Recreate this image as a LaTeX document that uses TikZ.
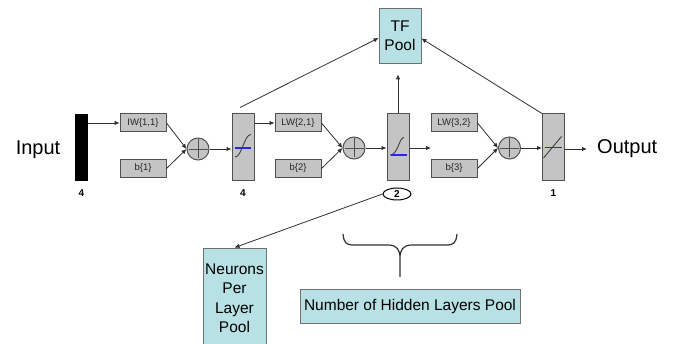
\documentclass[tikz,border=0pt]{standalone}
\usepackage{fontspec}
\setmainfont{Liberation Sans}
\usetikzlibrary{arrows.meta,shapes.geometric}
\definecolor{wgray}{HTML}{C4C4C4}
\definecolor{edge}{HTML}{505050}
\definecolor{pool}{HTML}{B7E1E4}
\definecolor{poolline}{HTML}{707070}
\definecolor{tfblue}{HTML}{2828E6}
\definecolor{wire}{HTML}{303030}
\begin{document}
\begin{tikzpicture}[x=1pt,y=-1pt,
  wbox/.style={draw=edge, fill=wgray, line width=1pt, minimum width=46pt,
    minimum height=18pt, inner sep=0pt, text=black!85,
    font=\fontsize{9.5}{11}\selectfont},
  layer/.style={draw=edge, fill=wgray, line width=1pt, minimum width=22pt,
    minimum height=67pt, inner sep=0pt},
  sumnode/.style={circle, draw=edge, fill=wgray, line width=1pt,
    minimum size=22pt, inner sep=0pt},
  poolbox/.style={draw=poolline, fill=pool, line width=0.8pt, inner sep=0pt,
    align=center, font=\fontsize{15.5}{19.5}\selectfont},
  wirearrow/.style={draw=wire, line width=0.8pt, -{Latex[length=5pt,width=4.5pt]}},
  sizelbl/.style={font=\bfseries\fontsize{10}{12}\selectfont},
  bigtext/.style={font=\fontsize{20}{24}\selectfont, inner sep=0pt},
  tfcurve/.style={draw=black!75, line width=0.9pt},
  tfline/.style={draw=tfblue, line width=1.3pt}
]
\useasboundingbox (0,0) rectangle (675,344);

% input side
\node[bigtext] (in) at (38,150) {Input};
\node[fill=black, minimum width=13pt, minimum height=67pt, inner sep=0pt] (bar) at (81.5,147.5) {};
\node[sizelbl] (n0) at (81.5,193) {4};

% layer 1
\node[wbox] (iw) at (143,123) {IW\{1,1\}};
\node[wbox] (b1) at (143,168.5) {b\{1\}};
\node[sumnode] (s1) at (198,149) {};
\node[layer] (l1) at (243,147.5) {};
\node[sizelbl] (n1) at (243,193) {4};

% layer 2
\node[wbox] (lw21) at (298,123) {LW\{2,1\}};
\node[wbox] (b2) at (298,168.5) {b\{2\}};
\node[sumnode] (s2) at (354,148) {};
\node[layer] (l2) at (398,147.5) {};
\node[ellipse, draw=black, fill=white, line width=1pt, minimum width=28pt,
  minimum height=12pt, inner sep=0pt, sizelbl] (n2) at (397,194) {2};

% layer 3
\node[wbox] (lw32) at (454,123) {LW\{3,2\}};
\node[wbox] (b3) at (454,168.5) {b\{3\}};
\node[sumnode] (s3) at (509.5,148) {};
\node[layer] (l3) at (553.5,147.5) {};
\node[sizelbl] (n3) at (553.5,193) {1};
\node[bigtext, anchor=west] (out) at (597,149) {Output};
\coordinate (stub) at (431,148);

% pools
\node[poolbox, minimum width=42pt, minimum height=55pt] (tf) at (400,35.5) {TF\\Pool};
\node[poolbox, minimum width=63pt, minimum height=100pt] (npl) at (234.5,298) {Neurons\\Per\\Layer\\Pool};
\node[poolbox, minimum width=220pt, minimum height=34pt] (nhl) at (410,306.5) {Number of Hidden Layers Pool};

% summing junction crosses
\foreach \s in {s1,s2,s3}
  \draw[edge, line width=0.9pt] ([xshift=2pt]\s.west) -- ([xshift=-2pt]\s.east)
    ([yshift=-2pt]\s.north) -- ([yshift=2pt]\s.south);

% transfer function glyphs
\begin{scope}[shift={(l1.center)}]
  \draw[tfline] (-8,0.5) -- (8,0.5);
  \draw[tfcurve] (-8,9.5) .. controls (-1,9.5) and (1,-13) .. (8,-13);
\end{scope}
\begin{scope}[shift={(l2.center)}]
  \draw[tfcurve] (-8,7.5) .. controls (0,7.5) and (1,-10) .. (6,-10);
  \draw[tfline] (-7,7.5) -- (9,7.5);
\end{scope}
\begin{scope}[shift={(l3.center)}]
  \draw[tfcurve] (-10,10.5) -- (8,-11);
  \draw[tfline] (-9,0) -- (8,0);
\end{scope}

% signal connectors
\draw[wirearrow] (bar.east |- iw.west) -- (iw.west);
\draw[wirearrow] (iw.east) -- (s1.west);
\draw[wirearrow] (b1.east) -- (s1.west);
\draw[wirearrow] (s1.east) -- (s1.east -| l1.west);
\draw[wirearrow] (l1.east |- lw21.west) -- (lw21.west);
\draw[wirearrow] (lw21.east) -- (s2.west);
\draw[wirearrow] (b2.east) -- (s2.west);
\draw[wirearrow] (s2.east) -- (s2.east -| l2.west);
\draw[wirearrow] (l2.east |- stub) -- (stub);
\draw[wirearrow] (lw32.east) -- (s3.west);
\draw[wirearrow] (b3.east) -- (s3.west);
\draw[wirearrow] (s3.east) -- (s3.east -| l3.west);
\draw[wirearrow] (l3.east |- out.west) -- ([xshift=-10pt]out.west);

% pool connectors
\draw[wirearrow] (l2.north) -- ([yshift=-11pt]l2.north |- tf.south);
\draw[wirearrow] ([xshift=-3pt,yshift=6pt]l1.north) -- ([yshift=-2.5pt]tf.west);
\draw[wirearrow] (l3.north west) -- ([yshift=-3pt]tf.east);
\draw[wirearrow] (n2.west) -- (npl.north);

% brace over the hidden layers
\draw[wire, line width=1.2pt]
  (343,234) .. controls (344,243) and (346,245) .. (354,245) -- (388,245)
  .. controls (397,245) and (400,250) .. (400,258) -- (400,277)
  (400,258) .. controls (400,250) and (403,245) .. (412,245) -- (446,245)
  .. controls (454,245) and (456,243) .. (457,234);
\end{tikzpicture}
\end{document}
